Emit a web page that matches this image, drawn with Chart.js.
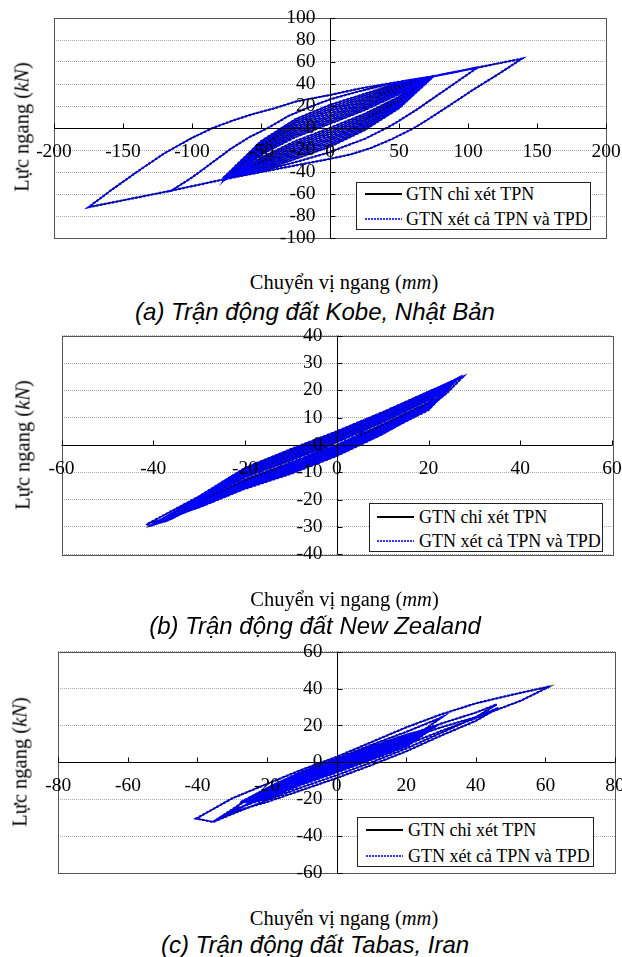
<!DOCTYPE html>
<html lang="vi">
<head>
<meta charset="UTF-8" />
<title>Lực ngang - Chuyển vị ngang</title>
<script src="https://cdn.jsdelivr.net/npm/chart.js"></script>
<style>
  body {
    margin: 0;
    width: 622px;
    height: 957px;
    overflow: hidden;
    position: relative;
    background: #fff;
    color: #000;
    font-family: 'Liberation Serif', 'Times New Roman', serif;
  }
  canvas { position: absolute; left: 0; }
  .ytitle, .xtitle, .caption {
    position: absolute;
    white-space: nowrap;
    transform: translate(-50%, -50%);
  }
  .ytitle { font-size: 20.5px; transform: translate(-50%, -50%) rotate(-90deg); }
  .xtitle { font-size: 20.5px; }
  .caption {
    font-family: 'Liberation Sans', Arial, sans-serif;
    font-style: italic;
    font-size: 24px;
  }
  .legend {
    position: absolute;
    box-sizing: border-box;
    border: 1px solid #222;
    background: #fff;
    font-size: 18px;
  }
  .legend .sample { position: absolute; width: 37px; }
  .legend .solid { height: 2px; background: #000; }
  .legend .dotted {
    height: 1.5px;
    background: repeating-linear-gradient(90deg, #3535ff 0 2px, transparent 2px 3px);
  }
  .legend .label { position: absolute; white-space: nowrap; transform: translateY(-50%); }
</style>
</head>
<body>
<script>
  // texts
  const legendLabels = ['GTN chỉ xét TPN', 'GTN xét cả TPN và TPD'];
  const xTitle = 'Chuyển vị ngang (<i>mm</i>)';
  const yTitle = 'Lực ngang (<i>kN</i>)';
  const captions = [
    '(a) Trận động đất Kobe, Nhật Bản',
    '(b) Trận động đất New Zealand',
    '(c) Trận động đất Tabas, Iran'
  ];

  // tick labels
  const kobeXTicks = [-200, -150, -100, -50, 0, 50, 100, 150, 200];
  const kobeYTicks = [-100, -80, -60, -40, -20, 0, 20, 40, 60, 80, 100];
  const nzXTicks = [-60, -40, -20, 0, 20, 40, 60];
  const nzYTicks = [-40, -30, -20, -10, 0, 10, 20, 30, 40];
  const tabasXTicks = [-80, -60, -40, -20, 0, 20, 40, 60, 80];
  const tabasYTicks = [-60, -40, -20, 0, 20, 40, 60];

  // (a) Kobe: [displacement mm, force kN], traced loop by loop
  const kobeTPN = [
    [-66, -41], [-50, -24.2], [-25, -8.2], [0, 3.9], [25, 16.2], [50, 30.7], [64, 41], [50, 28.4], [25, 12.8], [0, 0.1], [-25, -11.8], [-50, -26.9], [-66, -41],
    [-68, -42], [-50, -22.8], [-25, -6.4], [0, 5.8], [25, 17.8], [50, 31.8], [66, 42], [50, 27.2], [25, 11.2], [0, -1.8], [-25, -13.6], [-50, -28.2], [-68, -42],
    [-71, -44], [-50, -21.5], [-25, -4.6], [0, 7.7], [25, 19.5], [50, 33], [69, 44], [50, 26], [25, 9.5], [0, -3.7], [-25, -15.4], [-50, -29.6], [-71, -44],
    [-70, -43], [-50, -20], [-25, -2.8], [0, 9.6], [25, 21.1], [50, 34.1], [68, 43], [50, 24.9], [25, 7.9], [0, -5.6], [-25, -17.2], [-50, -31], [-70, -43],
    [-73, -45], [-50, -18.8], [-25, -1], [0, 11.5], [25, 22.8], [50, 35.3], [71, 45], [50, 23.8], [25, 6.3], [0, -7.5], [-25, -19], [-50, -32.3], [-73, -45],
    [-72, -44], [-50, -17.4], [-25, 0.8], [0, 13.4], [25, 24.4], [50, 36.4], [70, 44], [50, 22.6], [25, 4.6], [0, -9.4], [-25, -20.8], [-50, -33.6], [-72, -44],
    [-74, -45], [-50, -16], [-25, 2.6], [0, 15.3], [25, 26], [50, 37.6], [73, 46], [50, 21.5], [25, 3], [0, -11.3], [-25, -22.6], [-50, -35], [-74, -45],
    [-75, -44], [-50, -14.7], [-25, 4.4], [0, 17.2], [25, 27.7], [50, 38.7], [72, 45], [50, 20.3], [25, 1.3], [0, -13.2], [-25, -24.4], [-50, -36.3], [-75, -44],
    [-76, -46], [-50, -13.4], [-25, 6.2], [0, 19.1], [25, 29.4], [50, 39.9], [74, 46], [50, 19.1], [25, -0.4], [0, -15.1], [-25, -26.2], [-50, -37.6], [-76, -46],
    [-77, -45], [-50, -12], [-25, 8], [0, 21], [25, 31], [50, 41], [75, 47],
    [107, 55], [92, 42], [77, 29], [62, 16], [48, 5], [41, 0], [25, -10], [10, -17], [0, -22], [-25, -31], [-50, -39], [-78, -47], [-115, -57],
    [-100, -45], [-86, -32], [-72, -19], [-58, -8], [-45, 0], [-30, 11], [-15, 19], [0, 26], [20, 33], [40, 39], [60, 44], [75, 47], [107, 55], [139, 63],
    [122, 49], [104, 35], [86, 20], [70, 7], [61, 0], [45, -10], [30, -18], [15, -24], [0, -28], [-25, -34], [-50, -40], [-78, -47], [-115, -57], [-175, -72],
    [-158, -56], [-140, -40], [-120, -23], [-100, -9], [-85, 0], [-70, 7], [-55, 13], [-40, 18], [-25, 24], [0, 30], [22, 36], [50, 42], [75, 47],
    [50, 18], [25, -2], [0, -17], [-25, -28], [-50, -39], [-77, -45]
  ];
  const kobeTPD = kobeTPN; // both curves coincide at this scale

  // (b) New Zealand
  const nzTPN = [
    [-15, -11], [-5, -3], [5, 5], [12, 12], [4, 3], [-6, -5], [-15, -11],
    [-33, -24.5], [-30, -20.6], [-20, -11.8], [-10, -5.6], [0, 1], [10, 8.4], [20, 16.4], [22.5, 20], [20, 15.6], [10, 7.6], [0, 0], [-10, -6.4], [-20, -12.6], [-30, -21], [-33, -24.5],
    [-34, -25], [-30, -20.4], [-20, -11.4], [-10, -5.1], [0, 1.4], [10, 8.8], [20, 16.7], [23, 21], [20, 15.3], [10, 7.2], [0, -0.4], [-10, -6.9], [-20, -13], [-30, -21.2], [-34, -25],
    [-35, -26], [-30, -20.2], [-20, -11], [-10, -4.7], [0, 1.9], [10, 9.2], [20, 17], [23.5, 21.5], [20, 15], [10, 6.8], [0, -0.9], [-10, -7.4], [-20, -13.4], [-30, -21.4], [-35, -26],
    [-36, -27], [-30, -20], [-20, -10.7], [-10, -4.2], [0, 2.3], [10, 9.6], [20, 17.4], [24, 20], [20, 14.6], [10, 6.4], [0, -1.3], [-10, -7.8], [-20, -13.7], [-30, -21.6], [-36, -27],
    [-37.5, -28], [-30, -19.8], [-20, -10.3], [-10, -3.8], [0, 2.8], [10, 10], [20, 17.8], [24.5, 22], [20, 14.2], [10, 6], [0, -1.8], [-10, -8.3], [-20, -14.1], [-30, -21.8], [-37.5, -28],
    [-40, -29], [-30, -19.6], [-20, -9.9], [-10, -3.3], [0, 3.2], [10, 10.4], [20, 18.1], [26, 24], [20, 13.9], [10, 5.6], [0, -2.2], [-10, -8.7], [-20, -14.5], [-30, -22], [-40, -29],
    [-39.5, -28.8], [-30, -19.4], [-20, -9.5], [-10, -2.9], [0, 3.7], [10, 10.8], [20, 18.5], [25.5, 23.5], [20, 13.5], [10, 5.2], [0, -2.7], [-10, -9.1], [-20, -14.9], [-30, -22.2], [-39.5, -28.8],
    [-38.9, -28.6], [-30, -19.2], [-20, -9.2], [-10, -2.4], [0, 4.1], [10, 11.2], [20, 18.8], [24.7, 23], [20, 13.2], [10, 4.8], [0, -3.1], [-10, -9.6], [-20, -15.2], [-30, -22.4], [-38.9, -28.6],
    [-40.5, -29.5], [-30, -19], [-20, -8.8], [-10, -2], [0, 4.6], [10, 11.6], [20, 19.2], [26.5, 24.5], [20, 12.8], [10, 4.4], [0, -3.6], [-10, -10], [-20, -15.6], [-30, -22.6], [-40.5, -29.5],
    [-41.4, -29], [-30, -18.8], [-20, -8.4], [-10, -1.5], [0, 5], [10, 12], [20, 19.5], [27.5, 25], [24, 19], [20, 13.6], [10, 4], [0, -4], [-10, -10.5], [-20, -16], [-30, -22.8], [-41.4, -29]
  ];
  const nzTPD = nzTPN;

  // (c) Tabas
  const tabasTPN = [
    [-18, -12], [-10, -5.5], [0, 1.5], [7.6, 6.3], [2, 0.5], [-6, -5], [-18, -12],
    [-22, -18], [-20, -16.7], [-10, -8.7], [0, -1.6], [10, 5.4], [20, 12.1], [21, 13], [20, 11.4], [10, 4.6], [0, -2.4], [-10, -9.3], [-20, -17.3], [-22, -18],
    [-22, -18], [-20, -16.4], [-10, -8.4], [0, -1.3], [10, 5.7], [20, 12.4], [22, 14], [20, 11.1], [10, 4.3], [0, -2.7], [-10, -9.6], [-20, -17.6], [-22, -18],
    [-23, -19], [-20, -16.1], [-10, -8.1], [0, -0.9], [10, 6.1], [20, 12.7], [23, 15], [20, 10.8], [10, 3.9], [0, -3.1], [-10, -9.9], [-20, -17.9], [-23, -19],
    [-23, -19], [-20, -15.8], [-10, -7.8], [0, -0.6], [10, 6.4], [20, 13.1], [24, 16], [20, 10.4], [10, 3.6], [0, -3.4], [-10, -10.2], [-20, -18.2], [-23, -19],
    [-24, -20], [-20, -15.5], [-10, -7.5], [0, -0.3], [10, 6.8], [20, 13.4], [25, 16.5], [20, 10.1], [10, 3.3], [0, -3.8], [-10, -10.5], [-20, -18.5], [-24, -20],
    [-24, -20], [-20, -15.2], [-10, -7.2], [0, 0.1], [10, 7.1], [20, 13.7], [26, 17], [20, 9.8], [10, 2.9], [0, -4.1], [-10, -10.8], [-20, -18.8], [-24, -20],
    [-25, -21], [-20, -14.9], [-10, -6.9], [0, 0.5], [10, 7.5], [20, 14], [26.5, 17.5], [20, 9.5], [10, 2.5], [0, -4.5], [-10, -11.1], [-20, -19.1], [-25, -21],
    [-26, -21], [-20, -14.6], [-10, -6.6], [0, 0.8], [10, 7.8], [20, 14.4], [27, 18], [20, 9.1], [10, 2.2], [0, -4.8], [-10, -11.4], [-20, -19.4], [-26, -21],
    [-25.5, -21.5], [-20, -14.3], [-10, -6.3], [0, 1.2], [10, 8.2], [20, 14.7], [27.5, 18.5], [20, 8.8], [10, 1.8], [0, -5.2], [-10, -11.7], [-20, -19.7], [-25.5, -21.5],
    [-25, -22], [-20, -14], [-10, -6], [0, 1.5], [10, 8.5], [20, 15], [28, 19], [20, 8.5], [10, 1.5], [0, -5.5], [-10, -12], [-20, -20], [-25, -22],
    [-27, -21], [-20, -14], [-10, -5], [0, 2], [10, 9.5], [20, 16.5], [30.2, 24.4], [25, 17.5], [15, 9], [5, 1.5], [0, -2.5], [-10, -9.5], [-20, -16], [-27, -21],
    [-30, -27], [-20, -17], [-10, -8.5], [0, -1.5], [10, 5.5], [20, 12.5], [30, 19], [40, 24.5], [46.5, 29.5], [40, 22.5], [30, 14.5], [20, 6], [10, -1.5], [0, -8.5], [-10, -15], [-20, -21.5], [-30, -27],
    [-35.5, -32.3], [-28, -23], [-20, -15], [-10, -7], [0, 0], [10, 7.5], [20, 14.5], [30, 21], [40, 27], [46, 31.4], [40, 24.5], [30, 16], [20, 7.5], [10, 0], [0, -7], [-10, -13.5], [-20, -20.5], [-28, -26.5], [-35.5, -32.3],
    [-40.4, -30.5], [-30, -19.5], [-20, -11.7], [-10, -4], [0, 3], [10, 11], [20, 19], [30, 26], [40, 32], [50, 36.5], [61.3, 41.2], [53, 33.5], [46, 28.5], [40, 24], [30, 17], [20, 9.5], [10, 2], [0, -5], [-10, -12], [-20, -19], [-30, -26], [-35.5, -32.3]
  ];
  const tabasTPD = tabasTPN;

  const panels = [
    { top: 0, pad: { left: 54, top: 18, right: 34, bottom: 24 }, xTicks: kobeXTicks, yTicks: kobeYTicks,
      tpn: kobeTPN, tpd: kobeTPD, caption: captions[0],
      legend: { left: 356, top: 182, w: 235, h: 48, rows: [11, 36], line: 8, text: 49 },
      xt: [344, 282], yt: [21.5, 127], cap: [315, 312] },
    { top: 318, pad: { left: 61.5, top: 17.7, right: 28, bottom: 25.7 }, xTicks: nzXTicks, yTicks: nzYTicks,
      tpn: nzTPN, tpd: nzTPD, caption: captions[1],
      legend: { left: 369, top: 503, w: 234, h: 49, rows: [13, 37], line: 7, text: 49 },
      xt: [344.5, 599], yt: [22.5, 445], cap: [315, 626] },
    { top: 634, pad: { left: 58.3, top: 17.7, right: 25, bottom: 23 }, xTicks: tabasXTicks, yTicks: tabasYTicks,
      tpn: tabasTPN, tpd: tabasTPD, caption: captions[2],
      legend: { left: 357, top: 817, w: 237, h: 50, rows: [12, 38], line: 8, text: 50 },
      xt: [344, 918], yt: [19.5, 762], cap: [315, 945] }
  ];

  const tickFont = '19.5px "Liberation Serif", "Times New Roman", serif';

  // frame, axis lines through 0, tick marks and tick labels
  const axesDecor = {
    id: 'axesDecor',
    afterDatasetsDraw(chart) {
      const { ctx, chartArea: a, scales: { x, y } } = chart;
      const x0 = Math.round(x.getPixelForValue(0)) + 0.5;
      const y0 = Math.round(y.getPixelForValue(0)) + 0.5;
      ctx.save();
      ctx.lineWidth = 1;
      ctx.strokeStyle = '#555';
      ctx.strokeRect(Math.round(a.left) + 0.5, Math.round(a.top) + 0.5,
        Math.round(a.right - a.left), Math.round(a.bottom - a.top));
      ctx.strokeStyle = '#000';
      ctx.beginPath();
      ctx.moveTo(a.left, y0); ctx.lineTo(a.right, y0);
      ctx.moveTo(x0, a.top); ctx.lineTo(x0, a.bottom);
      x.ticks.forEach(t => {
        const px = Math.round(x.getPixelForValue(t.value)) + 0.5;
        ctx.moveTo(px, y0); ctx.lineTo(px, y0 - 5);
      });
      y.ticks.forEach(t => {
        const py = Math.round(y.getPixelForValue(t.value)) + 0.5;
        ctx.moveTo(x0, py); ctx.lineTo(x0 + 5, py);
      });
      ctx.stroke();

      ctx.fillStyle = '#000';
      ctx.font = tickFont;
      ctx.textBaseline = 'middle';
      ctx.textAlign = 'center';
      x.ticks.forEach(t => ctx.fillText(String(t.value), x.getPixelForValue(t.value), y0 + 23.5));
      ctx.textAlign = 'right';
      y.ticks.forEach(t => ctx.fillText(String(t.value), x0 - 15, y.getPixelForValue(t.value)));
      ctx.restore();
    }
  };

  const charts = [];

  panels.forEach(p => {
    const canvas = document.createElement('canvas');
    canvas.width = 640;
    canvas.height = 270;
    canvas.style.top = p.top + 'px';
    document.body.appendChild(canvas);

    charts.push(new Chart(canvas, {
      type: 'scatter',
      data: {
        datasets: [
          {
            label: legendLabels[1],
            data: p.tpd,
            showLine: true,
            borderColor: '#0000ff',
            borderWidth: 2.2,
            borderDash: [2.5, 1.5],
            pointRadius: 0,
            order: 0
          },
          {
            label: legendLabels[0],
            data: p.tpn,
            showLine: true,
            borderColor: '#000',
            borderWidth: 1.3,
            pointRadius: 0,
            order: 1
          }
        ]
      },
      options: {
        responsive: false,
        animation: false,
        events: [],
        layout: { padding: p.pad },
        plugins: { legend: { display: false }, tooltip: { enabled: false } },
        scales: {
          x: {
            type: 'linear',
            min: p.xTicks[0],
            max: p.xTicks[p.xTicks.length - 1],
            afterBuildTicks: s => { s.ticks = p.xTicks.map(v => ({ value: v })); },
            grid: { display: false },
            border: { display: false },
            ticks: { display: false }
          },
          y: {
            type: 'linear',
            min: p.yTicks[0],
            max: p.yTicks[p.yTicks.length - 1],
            afterBuildTicks: s => { s.ticks = p.yTicks.map(v => ({ value: v })); },
            grid: { color: '#a8a8a8', lineWidth: 1, drawTicks: false },
            border: { display: false, dash: [1, 1] },
            ticks: { display: false }
          }
        }
      },
      plugins: [axesDecor]
    }));

    const lg = document.createElement('div');
    lg.className = 'legend';
    Object.assign(lg.style, {
      left: p.legend.left + 'px', top: p.legend.top + 'px',
      width: p.legend.w + 'px', height: p.legend.h + 'px'
    });
    legendLabels.forEach((txt, i) => {
      const s = document.createElement('div');
      s.className = 'sample ' + (i === 0 ? 'solid' : 'dotted');
      s.style.left = p.legend.line + 'px';
      s.style.top = (p.legend.rows[i] - 1) + 'px';
      lg.appendChild(s);
      const l = document.createElement('div');
      l.className = 'label';
      l.style.left = p.legend.text + 'px';
      l.style.top = p.legend.rows[i] + 'px';
      l.textContent = txt;
      lg.appendChild(l);
    });
    document.body.appendChild(lg);

    const xt = document.createElement('div');
    xt.className = 'xtitle';
    xt.innerHTML = xTitle;
    xt.style.left = p.xt[0] + 'px';
    xt.style.top = p.xt[1] + 'px';
    document.body.appendChild(xt);

    const yt = document.createElement('div');
    yt.className = 'ytitle';
    yt.innerHTML = yTitle;
    yt.style.left = p.yt[0] + 'px';
    yt.style.top = p.yt[1] + 'px';
    document.body.appendChild(yt);

    const cap = document.createElement('div');
    cap.className = 'caption';
    cap.textContent = p.caption;
    cap.style.left = p.cap[0] + 'px';
    cap.style.top = p.cap[1] + 'px';
    document.body.appendChild(cap);
  });

  // redraw once the serif face is ready for canvas text
  document.fonts.load(tickFont).then(() => charts.forEach(c => c.draw()));
</script>
</body>
</html>
